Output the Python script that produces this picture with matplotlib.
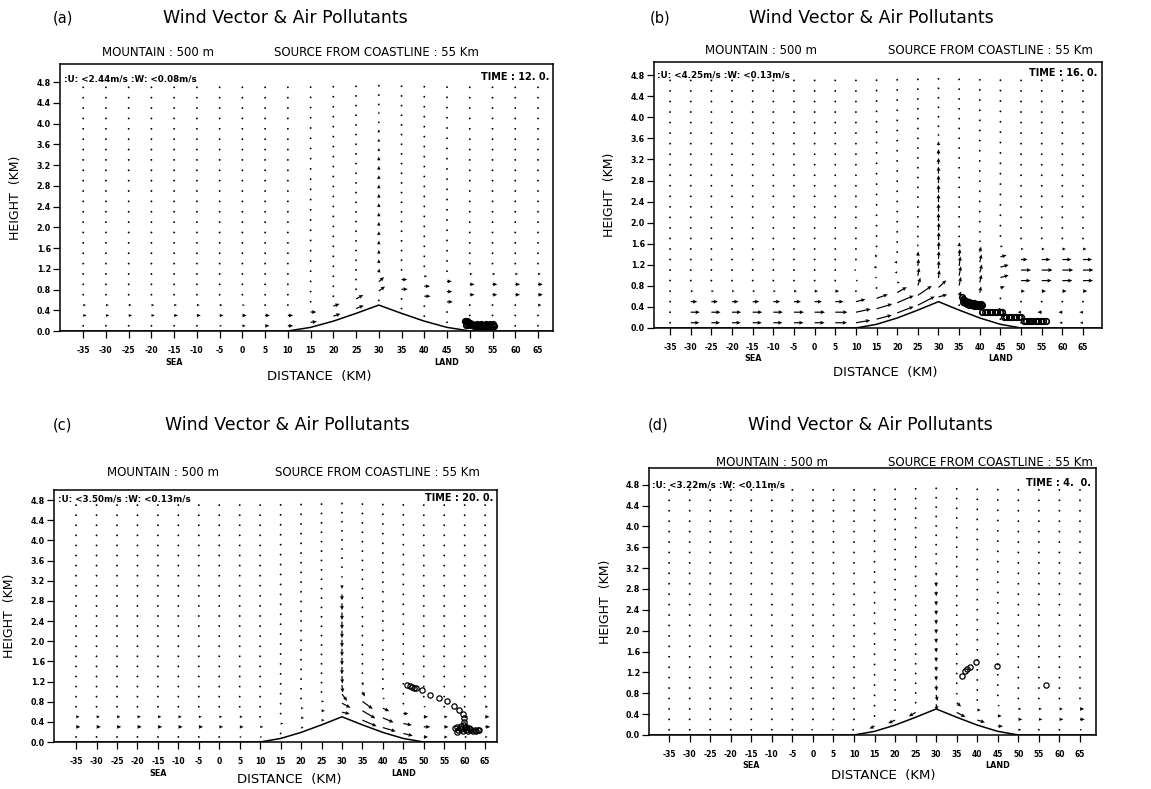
import numpy as np
import matplotlib
matplotlib.use('Agg')
import matplotlib.pyplot as plt

# ---------------- data ----------------
X_KM = [-35, -30, -25, -20, -15, -10, -5, 0, 5, 10, 15, 20, 25, 30, 35, 40, 45, 50, 55, 60, 65]
SIGMA = [0.1, 0.3, 0.5, 0.7, 0.9, 1.1, 1.3, 1.5, 1.7, 1.9, 2.1, 2.3,
         2.5, 2.7, 2.9, 3.1, 3.3, 3.5, 3.7, 3.9, 4.1, 4.3, 4.5, 4.7]
Z_TOP = 5.0
MTN_X = [-40, 10, 15, 20, 25, 30, 35, 40, 45, 50, 70]
MTN_H = [0.0, 0.0, 0.07, 0.19, 0.34, 0.5, 0.34, 0.19, 0.07, 0.0, 0.0]

X_TICKS = [-35, -30, -25, -20, -15, -10, -5, 0, 5, 10, 15, 20, 25, 30, 35, 40, 45, 50, 55, 60, 65]
Y_TICKS = [0.0, 0.4, 0.8, 1.2, 1.6, 2.0, 2.4, 2.8, 3.2, 3.6, 4.0, 4.4, 4.8]

PANEL_TAGS = ['(a)', '(b)', '(c)', '(d)']
TIMES = ['TIME : 12. 0.', 'TIME : 16. 0.', 'TIME : 20. 0.', 'TIME : 4.  0.']
UMAX = ['2.44', '4.25', '3.50', '3.22']
WMAX = ['0.08', '0.13', '0.13', '0.11']

# horizontal wind u (m/s), rows = lowest sigma levels, columns = X_KM
U_A = [
    [0.2, 0.2, 0.3, 0.3, 0.3, 0.4, 0.5, 0.7, 0.9, 1.1, 1.3, 1.5, 1.6, 0.2, 0.1, 0.1, 0.1, 0.1, 0.1, 0.1, 0.1],
    [0.7, 0.7, 0.7, 0.7, 0.8, 0.8, 0.8, 0.9, 1.0, 1.1, 1.2, 1.3, 1.5, 1.3, 0.2, 0.2, 0.3, 0.2, 0.2, 0.3, 0.3],
    [0.6, 0.6, 0.6, 0.6, 0.6, 0.6, 0.6, 0.5, 0.4, 0.2, 0.2, 0.2, 0.2, 1.1, 1.3, 1.3, 1.2, 0.3, 0.3, 0.4, 0.7],
    [0.1, 0.1, 0.1, 0.1, 0.1, 0.1, 0.1, 0.1, 0.1, 0.1, 0.1, 0.1, 0.1, 0.1, 1.2, 1.2, 1.1, 1.0, 1.0, 1.0, 1.0],
    [0.0, 0.0, 0.0, 0.0, 0.0, 0.0, 0.0, 0.0, 0.0, 0.0, 0.0, 0.0, 0.0, 0.0, 0.3, 0.6, 1.0, 1.0, 1.0, 1.0, 1.0],
    [0.0, 0.0, 0.0, 0.0, 0.0, 0.0, 0.0, 0.0, 0.0, 0.0, 0.0, 0.0, 0.0, 0.0, 0.0, 0.2, 0.4, 0.6, 0.6, 0.6, 0.6],
    [0.0, 0.0, 0.0, 0.0, 0.0, 0.0, 0.0, 0.0, 0.0, 0.0, 0.0, 0.0, 0.0, 0.0, 0.0, 0.0, 0.1, 0.2, 0.2, 0.2, 0.2],
]
U_B = [
    [0.0, 2.0, 2.0, 2.0, 2.1, 2.1, 2.2, 2.3, 2.7, 3.3, 3.5, 3.8, 3.9, 2.0, 0.3, -0.3, -0.2, -0.3, -0.6, -0.7, -0.7],
    [0.0, 2.1, 2.1, 2.1, 2.2, 2.2, 2.3, 2.4, 2.8, 3.4, 3.6, 3.8, 3.2, 1.8, 0.5, 0.2, -0.5, -0.8, -1.0, -0.9, -0.8],
    [0.2, 1.5, 1.5, 1.5, 1.5, 1.6, 1.6, 1.7, 1.9, 2.2, 2.6, 2.2, 0.6, 0.2, 0.4, 0.3, 0.3, -0.3, 0.3, 0.3, 0.3],
    [0.2, 0.6, 0.6, 0.6, 0.6, 0.6, 0.7, 0.8, 0.9, 0.4, 0.3, 0.6, 0.3, 0.1, 0.4, 0.4, 1.0, 0.9, 1.0, 1.0, 1.0],
    [0.1, 0.3, 0.3, 0.3, 0.3, 0.3, 0.3, 0.3, 0.3, 0.5, -0.5, -0.6, 0.2, 0.1, 0.3, 0.5, 1.9, 2.2, 2.3, 2.3, 2.3],
    [0.1, 0.2, 0.2, 0.2, 0.2, 0.2, 0.2, 0.2, 0.3, -0.5, -0.7, -0.7, 0.1, 0.1, 0.2, 0.4, 1.9, 2.3, 2.5, 2.5, 2.4],
    [0.0, 0.1, 0.1, 0.1, 0.1, 0.1, 0.1, 0.2, 0.4, -0.3, -0.4, -0.3, 0.0, 0.1, 0.1, 0.3, 1.4, 1.5, 2.0, 2.1, 2.1],
    [0.0, 0.0, 0.0, 0.0, 0.0, 0.0, 0.0, 0.1, 0.2, 0.0, -0.1, 0.0, 0.0, 0.1, 0.0, 0.1, 0.6, 0.6, 0.7, 0.8, 0.8],
    [0.0, 0.0, 0.0, 0.0, 0.0, 0.0, 0.0, 0.0, 0.0, 0.0, 0.0, 0.0, 0.0, 0.0, 0.0, 0.0, 0.0, 0.2, 0.3, 0.3, 0.3],
]
U_C = [
    [0.2, 0.3, 0.3, 0.3, 0.3, 0.4, 0.4, 0.4, 0.5, 0.5, 0.4, 0.6, 0.7, 1.8, 3.3, 3.0, 2.2, 1.0, 0.8, 0.6, 0.6],
    [1.0, 1.0, 1.0, 1.0, 1.0, 1.0, 1.0, 0.9, 0.9, 0.7, 0.6, 0.7, 0.8, 2.0, 3.0, 2.5, 2.0, 1.5, 1.0, 1.2, 1.2],
    [0.8, 0.8, 0.8, 0.8, 0.8, 0.8, 0.7, 0.7, 0.7, 0.4, 0.3, 0.6, 0.6, 1.2, 2.4, 1.5, 1.2, 1.0, 0.8, 0.8, 1.0],
    [0.2, 0.2, 0.2, 0.2, 0.2, 0.2, 0.2, 0.2, 0.2, 0.2, 0.1, 0.1, 0.1, 0.2, 0.6, 0.5, 0.3, 0.5, 0.4, 0.3, 0.7],
    [0.0, 0.0, 0.0, 0.0, 0.0, 0.0, 0.0, 0.0, 0.0, 0.0, 0.0, 0.0, 0.0, 0.1, 0.2, 0.1, 0.1, 0.2, 0.1, 0.1, 0.2],
]
U_D = [
    [-0.1, -0.2, -0.2, -0.3, -0.3, -0.4, -0.4, -0.5, -0.5, -0.6, -1.2, -1.6, -1.6, 0.2, 2.0, 1.8, 1.2, 0.7, 0.3, 0.3, 0.5],
    [-0.1, -0.1, -0.1, -0.1, -0.1, -0.1, -0.1, -0.1, -0.2, -0.2, -0.2, -0.2, -0.2, 0.3, 1.0, 0.8, 0.9, 0.9, 0.8, 0.9, 1.1],
    [0.0, 0.0, 0.0, 0.0, 0.0, 0.0, 0.0, 0.0, 0.0, 0.0, 0.0, 0.0, 0.0, 0.1, 0.1, 0.1, 0.5, 0.7, 0.7, 0.8, 1.0],
    [0.0, 0.0, 0.0, 0.0, 0.0, 0.0, 0.0, 0.0, 0.0, 0.0, 0.0, 0.0, 0.0, 0.0, 0.0, 0.0, 0.0, 0.1, 0.2, 0.2, 0.3],
]

# vertical wind w (m/s), lowest sigma levels (column x=30 given separately)
W_A = [
    [0, 0, 0, 0, 0, 0, 0, 0, 0, 0, 0.01, 0.03, 0.04, 0, 0, 0, 0, 0, 0, 0, 0],
    [0, 0, 0, 0, 0, 0, 0, 0, 0, 0, 0, 0.03, 0.05, 0, 0, 0, 0, 0, 0, 0, 0],
]
W_B = [
    [0, 0, 0, 0, 0, 0, 0, 0, 0, 0.03, 0.05, 0.08, 0.11, 0, 0, 0, 0, 0, 0, 0, 0],
    [0, 0, 0, 0, 0, 0, 0, 0, 0, 0.04, 0.06, 0.09, 0.12, 0, 0.05, 0.02, 0, 0, 0, 0, 0],
    [0, 0, 0, 0, 0, 0, 0, 0, 0, 0.03, 0.05, 0.07, 0.10, 0, 0.11, 0.08, 0, 0, 0, 0, 0],
    [0, 0, 0, 0, 0, 0, 0, 0, 0, 0, 0, 0, 0.10, 0, 0.12, 0.10, 0.02, 0, 0, 0, 0],
    [0, 0, 0, 0, 0, 0, 0, 0, 0, 0, 0, 0, 0.09, 0, 0.12, 0.10, 0.03, 0, 0, 0, 0],
    [0, 0, 0, 0, 0, 0, 0, 0, 0, 0, 0, 0, 0.06, 0, 0.09, 0.10, 0.03, 0, 0, 0, 0],
    [0, 0, 0, 0, 0, 0, 0, 0, 0, 0, 0.03, 0, 0.03, 0, 0.05, 0.07, 0.02, 0, 0, 0, 0],
    [0, 0, 0, 0, 0, 0, 0, 0, 0, 0, 0, 0, 0, 0, 0, 0.03, 0, 0, 0, 0, 0],
]
W_C = [
    [0, 0, 0, 0, 0, 0, 0, 0, 0, 0, 0, 0, 0, 0, -0.08, -0.05, -0.03, 0, 0, 0, 0],
    [0, 0, 0, 0, 0, 0, 0, 0, 0, 0, 0, 0, 0, 0, -0.10, -0.06, -0.02, 0, 0, 0, 0],
    [0, 0, 0, 0, 0, 0, 0, 0, 0, 0, 0, 0, 0, 0, -0.10, -0.04, 0, 0, 0, 0, 0],
    [0, 0, 0, 0, 0, 0, 0, 0, 0, 0, 0, 0, 0, 0, -0.06, 0, 0, 0, 0, 0, 0],
    [0, 0, 0, 0, 0, 0, 0, 0, 0, 0, 0, 0, 0, 0, -0.04, 0, 0, 0, 0, 0, 0],
]
W_D = [
    [0, 0, 0, 0, 0, 0, 0, 0, 0, 0, -0.03, -0.04, -0.05, 0, -0.06, -0.03, 0, 0, 0, 0, 0],
    [0, 0, 0, 0, 0, 0, 0, 0, 0, 0, 0, 0, 0, 0, -0.05, 0, 0, 0, 0, 0, 0],
    [0, 0, 0, 0, 0, 0, 0, 0, 0, 0, 0, 0, 0, 0, -0.03, 0, 0, 0, 0, 0, 0],
]
# w along the column above the summit (x = 30 km), all sigma levels
W30_A = [0.0, 0.06, 0.06, 0.05, 0.05, 0.05, 0.05, 0.05, 0.05, 0.05, 0.05, 0.05,
         0.05, 0.05, 0.05, 0.05, 0.04, 0.04, 0.04, 0.03, 0.03, 0.02, 0.01, 0.0]
W30_B = [0.03, 0.09, 0.10, 0.10, 0.10, 0.10, 0.10, 0.10, 0.10, 0.10, 0.10, 0.10,
         0.10, 0.09, 0.08, 0.07, 0.05, 0.03, 0.02, 0.01, 0.01, 0.0, 0.0, 0.0]
W30_C = [-0.02, -0.06, -0.09, -0.10, -0.10, -0.10, -0.10, -0.10, -0.10, -0.10, -0.10, -0.10,
         -0.09, -0.08, -0.05, -0.03, -0.01, 0.0, 0.0, 0.0, 0.0, 0.0, 0.0, 0.0]
W30_D = [-0.08, -0.08, -0.07, -0.06, -0.06, -0.06, -0.06, -0.06, -0.06, -0.06, -0.06, -0.06,
         -0.06, -0.06, -0.04, -0.02, 0.0, 0.0, 0.0, 0.0, 0.0, 0.0, 0.0, 0.0]

# pollutant particles (km, km)
PX_A = [49.0, 49.2, 49.4, 49.6, 49.8, 50.0, 49.2, 49.6, 50.0, 50.5, 51.0, 51.5, 52.0, 52.5, 53.0,
        53.5, 54.0, 54.5, 55.0, 55.4, 50.5, 51.5, 52.5, 53.5, 54.5, 55.2, 50.2, 50.8, 51.2,
        51.8, 52.2, 52.8, 53.2, 53.8, 54.2, 54.8]
PZ_A = [0.19, 0.17, 0.20, 0.18, 0.16, 0.15, 0.12, 0.11, 0.12, 0.11, 0.10, 0.10, 0.10, 0.10, 0.10,
        0.10, 0.10, 0.10, 0.10, 0.10, 0.14, 0.14, 0.14, 0.14, 0.14, 0.13, 0.12, 0.12, 0.12,
        0.12, 0.12, 0.12, 0.12, 0.12, 0.12, 0.12]
PX_B = [35.6, 35.9, 36.2, 36.6, 37.0, 37.4, 37.8, 38.2, 38.6, 39.0, 39.4, 39.8, 40.2, 40.6,
        36.0, 36.5, 37.0, 37.5, 38.0, 38.5, 39.0, 39.5, 40.0,
        40.6, 41.2, 41.8, 42.4, 43.0, 43.6, 44.2, 44.8, 45.4,
        45.8, 46.4, 47.0, 47.6, 48.2, 48.8, 49.4, 50.0,
        50.6, 51.2, 51.8, 52.4, 53.0, 53.6, 54.2, 54.8, 55.4, 56.0]
PZ_B = [0.58, 0.56, 0.54, 0.52, 0.50, 0.49, 0.48, 0.47, 0.47, 0.46, 0.46, 0.45, 0.45, 0.44,
        0.50, 0.47, 0.45, 0.44, 0.43, 0.42, 0.42, 0.41, 0.41,
        0.30, 0.30, 0.30, 0.30, 0.30, 0.30, 0.30, 0.30, 0.30,
        0.21, 0.21, 0.21, 0.21, 0.21, 0.21, 0.21, 0.21,
        0.14, 0.14, 0.14, 0.14, 0.14, 0.14, 0.14, 0.14, 0.14, 0.13]
PX_C = [46.0, 46.6, 47.1, 47.6, 48.1, 49.5, 51.6, 53.6, 55.6, 57.4, 58.7, 59.7,
        59.9, 59.9, 59.8,
        57.6, 58.0, 58.4, 58.8, 59.2, 59.6, 60.0, 60.4, 60.8, 61.2, 61.6, 62.0, 62.4, 62.8,
        63.2, 63.6, 59.0, 60.2, 58.2, 61.0]
PZ_C = [1.13, 1.11, 1.10, 1.08, 1.07, 1.03, 0.94, 0.88, 0.81, 0.72, 0.64, 0.56,
        0.47, 0.40, 0.33,
        0.27, 0.30, 0.24, 0.28, 0.25, 0.22, 0.27, 0.24, 0.22, 0.25, 0.23, 0.22, 0.24, 0.22,
        0.23, 0.23, 0.32, 0.30, 0.20, 0.28]
PX_D = [36.2, 37.0, 37.6, 38.2, 39.8, 44.7, 56.7]
PZ_D = [1.14, 1.23, 1.27, 1.30, 1.40, 1.32, 0.95]

# ---------------- style / layout ----------------
W_PX, H_PX = 1151, 789
KU = 1.05   # km of arrow per m/s (horizontal)
KW = 1.5    # km of arrow per m/s (vertical)

PANELS = [
    dict(rect=(60, 553, 64, 331), xlim=(-40.1, 68.3), ytop=5.15, U=U_A, W=W_A, W30=W30_A, PX=PX_A, PZ=PZ_A,
         tag=(53, 18), title=(285, 18), hdr_y=52, mtn_x=158, src_x=376, uv=(64, 79), time=(549, 77),
         dist_off=-45),
    dict(rect=(654, 1102, 62, 328), xlim=(-38.9, 69.6), ytop=5.05, U=U_B, W=W_B, W30=W30_B, PX=PX_B, PZ=PZ_B,
         tag=(650, 18), title=(871, 18), hdr_y=50, mtn_x=761, src_x=990, uv=(657, 75), time=(1097, 73),
         dist_off=-45),
    dict(rect=(54, 497, 490, 742), xlim=(-40.4, 67.9), ytop=5.0, U=U_C, W=W_C, W30=W30_C, PX=PX_C, PZ=PZ_C,
         tag=(53, 425), title=(287, 425), hdr_y=472, mtn_x=163, src_x=377, uv=(58, 499), time=(493, 498),
         dist_off=-38),
    dict(rect=(649, 1096, 468, 735), xlim=(-39.9, 68.9), ytop=5.12, U=U_D, W=W_D, W30=W30_D, PX=PX_D, PZ=PZ_D,
         tag=(648, 425), title=(870, 425), hdr_y=463, mtn_x=772, src_x=990, uv=(652, 485), time=(1091, 483),
         dist_off=-40),
]

plt.rcParams['font.family'] = ['DejaVu Sans']
fig = plt.figure(figsize=(W_PX / 100, H_PX / 100), dpi=100)
fig.patch.set_facecolor('white')


def ftxt(x, y, s, **kw):
    fig.text(x / W_PX, 1 - y / H_PX, s, **kw)


xk = np.array(X_KM, dtype=float)
sg = np.array(SIGMA, dtype=float)
h_col = np.interp(xk, MTN_X, MTN_H)
XG = np.tile(xk, (len(sg), 1))
ZG = h_col[None, :] + sg[:, None] * (1 - h_col[None, :] / Z_TOP)
i30 = X_KM.index(30)

for k, p in enumerate(PANELS):
    l, r, t, b = p['rect']
    ax = fig.add_axes([l / W_PX, 1 - b / H_PX, (r - l) / W_PX, (b - t) / H_PX])
    ax.set_xlim(*p['xlim'])
    ax.set_ylim(0, p['ytop'])

    U = np.zeros((len(sg), len(xk)))
    Wv = np.zeros((len(sg), len(xk)))
    U[:len(p['U'])] = np.array(p['U'])
    Wv[:len(p['W'])] = np.array(p['W'])
    Wv[:, i30] = np.array(p['W30'])

    ax.quiver(XG, ZG, U * KU, Wv * KW, angles='xy', scale_units='xy', scale=1,
              units='dots', width=1.2, headwidth=3.3, headlength=3.6, headaxislength=3.2,
              minshaft=1, minlength=1.7, color='black', pivot='tail', zorder=3)

    ax.plot(MTN_X, MTN_H, color='black', lw=1.1, zorder=4, clip_on=True)
    dense = k in (0, 1)
    ax.plot(p['PX'], p['PZ'], 'o', ms=4.0 if dense else 3.8, mfc='none', mec='black',
            mew=1.2 if dense else 0.9, zorder=5)

    for s in ax.spines.values():
        s.set_linewidth(1.1)
        s.set_color('black')

    ax.set_xticks(X_TICKS)
    ax.set_xticklabels([str(v) for v in X_TICKS], fontsize=5.5, fontweight='bold')
    ax.set_yticks(Y_TICKS)
    ax.set_yticklabels(['%.1f' % v for v in Y_TICKS], fontsize=5.8, fontweight='bold')
    ax.tick_params(axis='x', direction='out', length=5, width=0.9, pad=6)
    ax.tick_params(axis='y', direction='out', length=5, width=0.9, pad=1.5)

    trans = ax.get_xaxis_transform()
    ax.annotate('SEA', xy=(-15, 0), xycoords=trans, xytext=(0, -31), textcoords='offset pixels',
                ha='center', va='center', fontsize=5.8, fontweight='bold')
    ax.annotate('LAND', xy=(45, 0), xycoords=trans, xytext=(0, -31), textcoords='offset pixels',
                ha='center', va='center', fontsize=5.8, fontweight='bold')
    ax.annotate('DISTANCE  (KM)', xy=(17, 0), xycoords=trans, xytext=(0, p['dist_off']),
                textcoords='offset pixels', ha='center', va='center', fontsize=9.5)
    ax.annotate('HEIGHT  (KM)', xy=(0, 0.5), xycoords='axes fraction', xytext=(-44, 0),
                textcoords='offset pixels', ha='center', va='center', rotation=90, fontsize=9)

    # header texts
    ftxt(p['tag'][0], p['tag'][1], PANEL_TAGS[k], ha='left', va='center', fontsize=10.5)
    ftxt(p['title'][0], p['title'][1], 'Wind Vector & Air Pollutants', ha='center', va='center', fontsize=12.5)
    ftxt(p['mtn_x'], p['hdr_y'], 'MOUNTAIN : 500 m', ha='center', va='center', fontsize=8.5)
    ftxt(p['src_x'], p['hdr_y'], 'SOURCE FROM COASTLINE : 55 Km', ha='center', va='center', fontsize=8.5)
    ftxt(p['uv'][0], p['uv'][1], ':U: <%sm/s :W: <%sm/s' % (UMAX[k], WMAX[k]),
         ha='left', va='center', fontsize=6.3, fontweight='bold')
    ftxt(p['time'][0], p['time'][1], TIMES[k], ha='right', va='center', fontsize=7, fontweight='bold')

fig.savefig('out.png', dpi=100, facecolor='white')
